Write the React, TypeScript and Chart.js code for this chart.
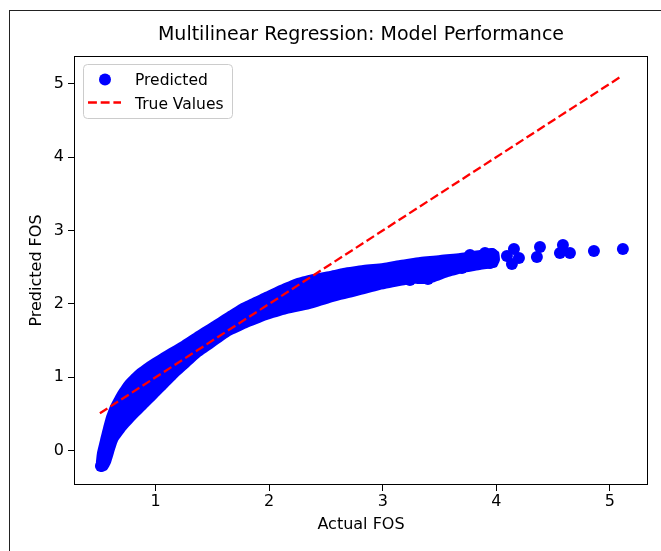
import React, { useEffect, useRef } from 'react';
import { Chart, registerables } from 'chart.js';

Chart.register(...registerables);

const TITLE = 'Multilinear Regression: Model Performance';
const X_LABEL = 'Actual FOS';
const Y_LABEL = 'Predicted FOS';
const PRED_LABEL = 'Predicted';
const TRUE_LABEL = 'True Values';

const xTicks = [1, 2, 3, 4, 5];
const yTicks = [0, 1, 2, 3, 4, 5];
const xRange = [0.282, 5.335];
const yRange = [-0.467, 5.377];

// Dense cloud of predicted points: upper edge of the cloud (left to right, then round the right end)
const bandUpperX = [0.475, 0.484, 0.511, 0.537, 0.563, 0.599, 0.66, 0.731, 0.819, 0.924, 1.065, 1.215, 1.364, 1.505, 1.629, 1.743, 1.945, 2.095, 2.245, 2.386, 2.535, 2.65, 2.826, 3.002, 3.151, 3.327, 3.504, 3.68, 3.856, 3.97, 4.023, 4.032, 4.005];
const bandUpperY = [-0.154, -0.031, 0.146, 0.309, 0.459, 0.609, 0.786, 0.95, 1.086, 1.208, 1.345, 1.481, 1.631, 1.767, 1.89, 1.999, 2.149, 2.258, 2.353, 2.408, 2.449, 2.489, 2.53, 2.557, 2.598, 2.639, 2.666, 2.693, 2.734, 2.762, 2.707, 2.598, 2.503];
// lower edge of the cloud (left to right)
const bandLowerX = [0.475, 0.519, 0.572, 0.607, 0.634, 0.669, 0.739, 0.819, 0.907, 1.004, 1.1, 1.197, 1.303, 1.391, 1.505, 1.655, 1.805, 1.981, 2.157, 2.359, 2.562, 2.773, 2.975, 3.151, 3.266, 3.371, 3.46, 3.565, 3.706, 3.856, 3.97];
const bandLowerY = [-0.236, -0.29, -0.263, -0.167, -0.031, 0.132, 0.282, 0.418, 0.554, 0.704, 0.854, 1.004, 1.154, 1.277, 1.399, 1.563, 1.672, 1.781, 1.863, 1.931, 2.027, 2.108, 2.19, 2.244, 2.275, 2.27, 2.3, 2.36, 2.421, 2.462, 2.489];

// individually visible predicted points
const predictedX = [0.519, 3.239, 3.398, 3.548, 3.697, 3.838, 3.768, 3.9, 3.961, 3.944, 4.093, 4.155, 4.199, 4.137, 4.384, 4.357, 4.586, 4.56, 4.648, 4.859, 5.114];
const predictedY = [-0.207, 2.326, 2.339, 2.448, 2.489, 2.543, 2.666, 2.694, 2.68, 2.557, 2.653, 2.748, 2.625, 2.543, 2.775, 2.639, 2.802, 2.693, 2.693, 2.721, 2.748];

const trueX = [0.51, 5.11];
const trueY = [0.51, 5.11];

const BLUE = '#0000ff';
const RED = '#ff0000';
const FONT = 'DejaVu Sans';
const DASH = [8.9, 3.8];

const zip = (xs: number[], ys: number[]) => xs.map((x, i) => ({ x, y: ys[i] }));

const framePlugin = {
  id: 'mplFrame',
  afterDraw(chart: any) {
    const { ctx, chartArea: a } = chart;
    ctx.save();
    // spines
    ctx.strokeStyle = '#000';
    ctx.lineWidth = 1;
    ctx.strokeRect(Math.round(a.left) + 0.5, Math.round(a.top) + 0.5, Math.round(a.right - a.left) - 1, Math.round(a.bottom - a.top) - 1);
    // title
    ctx.fillStyle = '#000';
    ctx.font = `19px "${FONT}"`;
    ctx.textAlign = 'center';
    ctx.textBaseline = 'alphabetic';
    ctx.fillText(TITLE, (a.left + a.right) / 2, a.top - 16.5);
    // legend
    const lx = a.left + 9, ly = a.top + 8, lw = 149, lh = 54;
    ctx.beginPath();
    if (ctx.roundRect) ctx.roundRect(lx + 0.5, ly + 0.5, lw, lh, 4);
    else ctx.rect(lx + 0.5, ly + 0.5, lw, lh);
    ctx.fillStyle = 'rgba(255,255,255,0.8)';
    ctx.fill();
    ctx.strokeStyle = '#cccccc';
    ctx.stroke();
    ctx.beginPath();
    ctx.arc(a.left + 31, a.top + 23.5, 6, 0, Math.PI * 2);
    ctx.fillStyle = BLUE;
    ctx.fill();
    ctx.beginPath();
    ctx.setLineDash(DASH);
    ctx.strokeStyle = RED;
    ctx.lineWidth = 2.3;
    ctx.moveTo(a.left + 14, a.top + 46.5);
    ctx.lineTo(a.left + 47, a.top + 46.5);
    ctx.stroke();
    ctx.setLineDash([]);
    ctx.fillStyle = '#000';
    ctx.font = `15.5px "${FONT}"`;
    ctx.textAlign = 'left';
    ctx.fillText(PRED_LABEL, a.left + 61, a.top + 28.5);
    ctx.fillText(TRUE_LABEL, a.left + 61, a.top + 52.5);
    ctx.restore();
  },
};

export default function App() {
  const ref = useRef<HTMLCanvasElement>(null);
  useEffect(() => {
    if (!ref.current) return;
    const band = [...zip(bandUpperX, bandUpperY), ...zip(bandLowerX, bandLowerY).reverse()];
    const chart = new Chart(ref.current, {
      type: 'scatter',
      data: {
        datasets: [
          {
            label: TRUE_LABEL,
            data: zip(trueX, trueY),
            showLine: true,
            borderColor: RED,
            borderWidth: 2.3,
            borderDash: DASH,
            pointRadius: 0,
            fill: false,
            order: 0,
          } as any,
          {
            label: PRED_LABEL,
            data: zip(predictedX, predictedY),
            backgroundColor: BLUE,
            borderColor: BLUE,
            borderWidth: 0,
            pointRadius: 6,
            order: 1,
          },
          {
            label: PRED_LABEL,
            data: band,
            showLine: true,
            borderWidth: 0,
            borderColor: BLUE,
            backgroundColor: BLUE,
            pointRadius: 0,
            fill: 'shape',
            tension: 0.15,
            order: 2,
          } as any,
        ],
      },
      options: {
        animation: false,
        responsive: true,
        maintainAspectRatio: false,
        events: [],
        layout: { padding: { top: 56, left: 0, right: 13, bottom: 0 } },
        plugins: { legend: { display: false }, title: { display: false }, tooltip: { enabled: false } },
        scales: {
          x: {
            type: 'linear',
            min: xRange[0],
            max: xRange[1],
            afterBuildTicks: (axis: any) => { axis.ticks = xTicks.map((v) => ({ value: v })); },
            afterFit: (axis: any) => { axis.height = 66; },
            grid: { display: true, drawOnChartArea: false, drawTicks: true, tickLength: 6, color: '#000', tickColor: '#000', tickWidth: 1 },
            border: { display: false },
            ticks: { color: '#000', font: { family: FONT, size: 16, lineHeight: 1 }, padding: 3, maxRotation: 0, callback: (v: any) => String(v) },
            title: { display: true, text: X_LABEL, color: '#000', font: { family: FONT, size: 16, lineHeight: 1.2 }, padding: { top: 0, bottom: 17 } },
          },
          y: {
            type: 'linear',
            min: yRange[0],
            max: yRange[1],
            afterBuildTicks: (axis: any) => { axis.ticks = yTicks.map((v) => ({ value: v })); },
            afterFit: (axis: any) => { axis.width = 74; },
            grid: { display: true, drawOnChartArea: false, drawTicks: true, tickLength: 6, color: '#000', tickColor: '#000', tickWidth: 1 },
            border: { display: false },
            ticks: { color: '#000', font: { family: FONT, size: 16, lineHeight: 1.2 }, padding: 4, callback: (v: any) => String(v) },
            title: { display: true, text: Y_LABEL, color: '#000', font: { family: FONT, size: 16, lineHeight: 1.2 }, padding: { top: 27, bottom: 0 } },
          },
        },
      } as any,
      plugins: [framePlugin],
    });
    return () => chart.destroy();
  }, []);

  return (
    <div style={{ position: 'fixed', left: 0, top: 0, width: 661, height: 551, overflow: 'hidden', background: '#fff' }}>
      <div style={{ position: 'absolute', left: 9, top: 10, width: 700, height: 600, border: '1px solid #222' }} />
      <div style={{ position: 'absolute', left: 0, top: 0, width: 661, height: 551 }}>
        <canvas ref={ref} />
      </div>
    </div>
  );
}
